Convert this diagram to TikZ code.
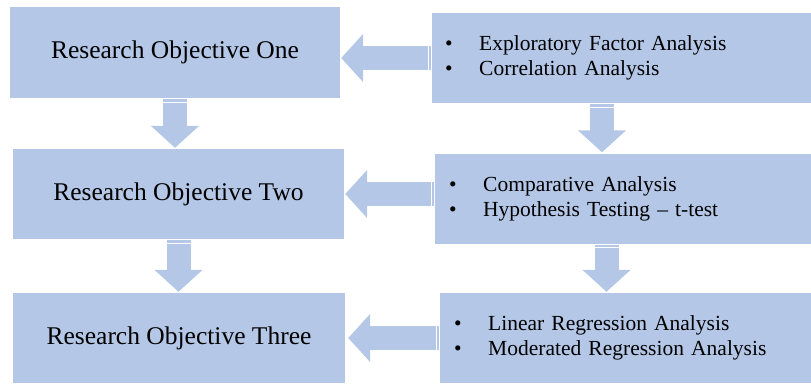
\documentclass[tikz,border=0pt]{standalone}
\usepackage{fontspec}
\setmainfont{Liberation Serif}
\usetikzlibrary{arrows.meta}
\definecolor{boxblue}{RGB}{180,199,231}
\newcommand{\bitem}[1]{\makebox[34pt][l]{\textbullet}#1}

\begin{document}
\begin{tikzpicture}[x=1pt, y=-1pt,
    objbox/.style={fill=boxblue, minimum width=331pt, minimum height=90pt, inner sep=0pt,
        font=\fontsize{25.5}{30}\selectfont},
    methodbox/.style={fill=boxblue, anchor=west, minimum height=90pt, text width=400pt,
        inner xsep=13pt, align=left, font=\fontsize{21.5}{25}\selectfont},
    blockarrow/.style={draw=boxblue, line width=24pt,
        -{Triangle[width=47pt, length=22pt]}, shorten <=1pt, shorten >=1pt},
    stripe/.style={draw=white, line width=0.8pt}]
    \useasboundingbox (0,0) rectangle (811,383);
    \clip (0,0) rectangle (811,383);

    % research objectives
    \node[objbox, minimum width=330pt, minimum height=91pt] (obj1) at (175,52.5) {Research Objective One};
    \node[objbox] (obj2) at (178.5,194) {Research Objective Two};
    \node[objbox, minimum width=332pt] (obj3) at (179,338) {Research Objective Three};

    % analyses
    \node[methodbox] (m1) at (432,58) {\bitem{Exploratory Factor Analysis}\\\bitem{Correlation Analysis}};
    \node[methodbox, inner xsep=14pt] (m2) at (435,198.5) {\bitem{Comparative Analysis}\\\bitem{Hypothesis Testing – t-test}};
    \node[methodbox, inner xsep=14pt] (m3) at (440,338) {\bitem{Linear Regression Analysis}\\\bitem{Moderated Regression Analysis}};

    % arrow tails
    \coordinate (t2) at (m2.west |- obj2.east);
    \coordinate (d1) at ([xshift=170pt]m1.south west);
    \coordinate (d2) at ([xshift=171.5pt]m2.south west);

    % analyses -> objectives
    \draw[blockarrow] (m1.west) -- (obj1.east |- m1.west);
    \draw[blockarrow] (t2) -- (obj2.east);
    \draw[blockarrow, shorten >=3pt] (m3.west) -- (obj3.east);

    % down arrows
    \draw[blockarrow] (obj1.south) -- (obj1.south |- obj2.north);
    \draw[blockarrow] (obj2.south) -- (obj2.south |- obj3.north);
    \draw[blockarrow] (d1) -- (d1 |- m2.north);
    \draw[blockarrow] (d2) -- (d2 |- m3.north);

    % stripes at the tails
    \draw[stripe] ([xshift=-4pt]m1.west) ++(0,-12) -- ++(0,24);
    \draw[stripe] ([xshift=-4pt]t2) ++(0,-12) -- ++(0,24);
    \draw[stripe] ([xshift=-4pt]m3.west) ++(0,-12) -- ++(0,24);
    \draw[stripe] ([yshift=-4pt]obj1.south) ++(-12,0) -- ++(24,0);
    \draw[stripe] ([yshift=-4pt]obj2.south) ++(-12,0) -- ++(24,0);
    \draw[stripe] ([yshift=-4pt]d1) ++(-12,0) -- ++(24,0);
    \draw[stripe] ([yshift=-4pt]d2) ++(-12,0) -- ++(24,0);
\end{tikzpicture}
\end{document}
